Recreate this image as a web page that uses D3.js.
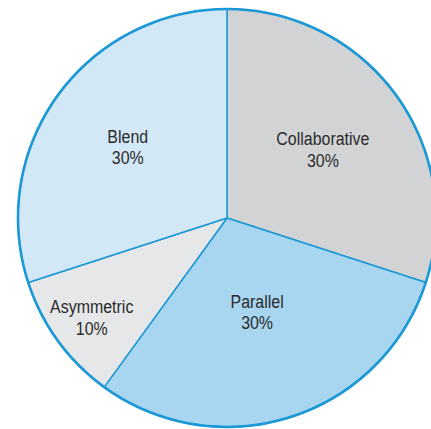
<!DOCTYPE html>
<html>
<head>
<meta charset="utf-8">
<script src="https://cdn.jsdelivr.net/npm/d3@7"></script>
<style>
  html, body { margin: 0; padding: 0; background: #ffffff; overflow: hidden; }
  svg { display: block; }
  .slice-label {
    font-family: "Liberation Sans", Arial, sans-serif;
    font-size: 19px;
    fill: #2b2b2b;
  }
</style>
</head>
<body>
<svg id="chart" width="431" height="429"></svg>
<script>
// Collaboration modes and their shares (percent)
const categories = ["Collaborative", "Parallel", "Asymmetric", "Blend"];
const shares = [30, 30, 10, 30];
const shareLabels = ["30%", "30%", "10%", "30%"];

// Look of each slice
const fills = ["#d1d3d4", "#a8d6f1", "#e6e7e8", "#d3e8f7"];
const edgeColor = "#1b98d5";
// How far from the centre each label sits, as a share of the radius
const labelReach = [0.567, 0.466, 0.80, 0.587];

const width = 431, height = 429;
const cx = 227, cy = 218, radius = 209;

const svg = d3.select("#chart");
const g = svg.append("g").attr("transform", `translate(${cx},${cy})`);

const pie = d3.pie().sort(null).value(d => d.value).startAngle(0).endAngle(2 * Math.PI);
const rows = categories.map((c, i) => ({ name: c, value: shares[i], label: shareLabels[i], i }));
const arcs = pie(rows);

const arc = d3.arc().innerRadius(0).outerRadius(radius);

g.selectAll("path.slice")
  .data(arcs)
  .join("path")
  .attr("class", "slice")
  .attr("d", arc)
  .attr("fill", d => fills[d.data.i])
  .attr("stroke", edgeColor)
  .attr("stroke-width", 1.5)
  .attr("stroke-linejoin", "round");

// Heavier outer rim
g.append("circle")
  .attr("r", radius)
  .attr("fill", "none")
  .attr("stroke", edgeColor)
  .attr("stroke-width", 2.6);

// Two-line labels, narrowed horizontally to a condensed look
const labels = g.selectAll("text.slice-label")
  .data(arcs)
  .join("text")
  .attr("class", "slice-label")
  .attr("text-anchor", "middle")
  .attr("transform", d => {
    const mid = (d.startAngle + d.endAngle) / 2;
    const r = radius * labelReach[d.data.i];
    return `translate(${r * Math.sin(mid)},${-r * Math.cos(mid)}) scale(0.84,1)`;
  });

labels.append("tspan").attr("x", 0).attr("y", -3).text(d => d.data.name);
labels.append("tspan").attr("x", 0).attr("y", 18.5).text(d => d.data.label);
</script>
</body>
</html>
